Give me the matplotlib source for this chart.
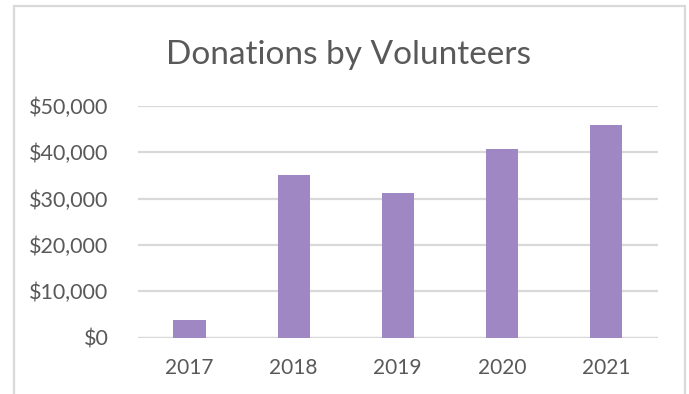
import matplotlib
matplotlib.use("Agg")
import matplotlib.pyplot as plt
from matplotlib.patches import Rectangle
from matplotlib.ticker import FuncFormatter

years = ["2017", "2018", "2019", "2020", "2021"]
donations = [3800, 35100, 31300, 40800, 46000]
y_ticks = [0, 10000, 20000, 30000, 40000, 50000]

text_col = "#595959"
grid_col = "#d9d9d9"
bar_col = "#9e87c2"

plt.rcParams["font.family"] = ["Lato", "DejaVu Sans"]

W, H = 689, 394
fig = plt.figure(figsize=(W / 100, H / 100), dpi=100)
ax = fig.add_axes([137.5 / W, (H - 337.5) / H, (658 - 137.5) / W, (337.5 - 106) / H])

x = list(range(len(years)))
ax.bar(x, donations, width=0.31, color=bar_col, zorder=3)

ax.set_xlim(-0.5, len(years) - 0.5)
ax.set_ylim(0, 50000)
ax.set_yticks(y_ticks)
ax.yaxis.set_major_formatter(FuncFormatter(lambda v, p: "${:,.0f}".format(v)))
ax.set_xticks(x)
ax.set_xticklabels(years)

ax.grid(axis="y", color=grid_col, linewidth=1.6, zorder=0)
ax.tick_params(axis="y", length=0, pad=21, labelsize=15.5, labelcolor=text_col)
ax.tick_params(axis="x", length=0, pad=15, labelsize=15, labelcolor=text_col)
for s in ax.spines.values():
    s.set_visible(False)
ax.axhline(0, color=grid_col, linewidth=1.6, zorder=1)

fig.text(349 / W, 1 - 55 / H, "Donations by Volunteers", ha="center", va="center",
         fontsize=24, color=text_col)

# light frame around the chart area
fig.add_artist(Rectangle((13.5 / W, -0.1), (684.5 - 13.5) / W, 1 - 6 / H + 0.1,
                         transform=fig.transFigure, fill=False,
                         edgecolor=grid_col, linewidth=1.6))

fig.savefig("out.png", dpi=100)
